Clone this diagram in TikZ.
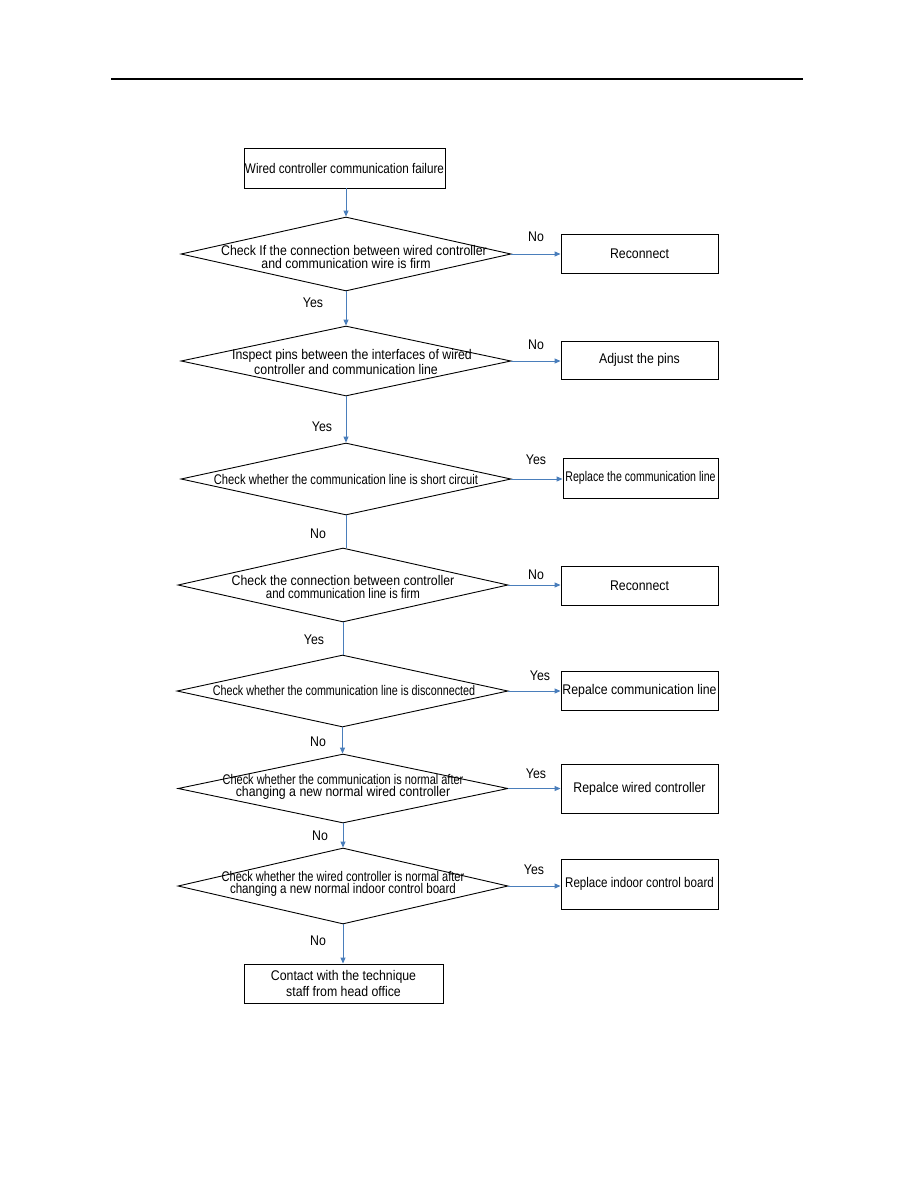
\documentclass[tikz,border=0pt]{standalone}
\usepackage{fontspec}
\usepackage{graphicx}
\setmainfont{Liberation Sans}[FakeStretch=0.88]
\usetikzlibrary{arrows.meta,shapes.geometric}
\definecolor{conn}{HTML}{4A7EBB}
\newcommand{\sx}[2]{\scalebox{#1}[1]{#2}}
\tikzset{
  box/.style={draw=black, line width=0.9pt, rectangle, inner sep=0pt, font=\fontsize{14}{16}\selectfont, align=center},
  dia/.style={draw=black, line width=0.9pt, diamond, inner sep=0pt, aspect=4.46, minimum width=330pt, minimum height=74pt},
  dtext/.style={font=\fontsize{14}{12.5}\selectfont, align=center, inner sep=0pt},
  lab/.style={font=\fontsize{14}{14}\selectfont, inner sep=0pt},
  arr/.style={draw=conn, line width=1pt, -{Triangle[length=6pt,width=5pt]}},
  plain/.style={draw=conn, line width=1pt},
}
\begin{document}
\begin{tikzpicture}[x=1pt,y=-1pt]
\useasboundingbox (0,0) rectangle (918,1188);
\coordinate (hl) at (111,79);
\coordinate (hr) at (803,79);
\draw[line width=1.3pt] (hl) -- (hr);

% main column
\node[box, minimum width=201pt, minimum height=40pt] (s) at (344.5,168) {\sx{0.95}{Wired controller communication failure}};

\node[dia] (d1) at (346,254) {};
\node[dtext] (d1t) at (346,257) {\hspace*{16pt}Check If the connection between wired controller\\and communication wire is firm};
\node[box, minimum width=157pt, minimum height=39pt] (r1) at (639.5,253.5) {Reconnect};

\node[dia, minimum height=70pt] (d2) at (346,361) {};
\node[dtext] (d2t) at (346,362) {\hspace*{12pt}Inspect pins between the interfaces of wired\\controller and communication line};
\node[box, minimum width=157pt, minimum height=38pt] (r2) at (639.5,360) {Adjust the pins};

\node[dia, minimum height=72pt] (d3) at (346,479) {};
\node[dtext] (d3t) at (346,479) {\sx{0.91}{Check whether the communication line is short circuit}};
\node[box, minimum width=155pt, minimum height=40pt] (r3) at (640.5,478) {\sx{0.86}{Replace the communication line}};

\node[dia] (d4) at (343,585) {};
\node[dtext] (d4t) at (343,587) {Check the connection between controller\\\sx{0.93}{and communication line is firm}};
\node[box, minimum width=157pt, minimum height=39pt] (r4) at (639.5,585.5) {Reconnect};

\node[dia, minimum height=72pt, minimum width=331pt] (d5) at (342.5,691) {};
\node[dtext] (d5t) at (344,690.5) {\sx{0.875}{Check whether the communication line is disconnected}};
\node[box, minimum width=157pt, minimum height=39pt] (r5) at (639.5,690.5) {Repalce communication line};

\node[dia, minimum height=69pt] (d6) at (343,788.5) {};
\node[dtext] (d6t) at (343,787) {\sx{0.89}{Check whether the communication is normal after}\\changing a new normal wired controller};
\node[box, minimum width=157pt, minimum height=49pt] (r6) at (639.5,788.5) {Repalce wired controller};

\node[dia, minimum height=76pt] (d7) at (343,886) {};
\node[dtext] (d7t) at (343,884) {\sx{0.895}{Check whether the wired controller is normal after}\\\sx{0.94}{changing a new normal indoor control board}};
\node[box, minimum width=157pt, minimum height=50pt] (r7) at (639.5,884) {\sx{0.94}{Replace indoor control board}};

\node[box, minimum width=199pt, minimum height=39pt] (e) at (343.5,983.5) {Contact with the technique\\staff from head office};

% vertical connectors
\draw[arr] (s.south -| d1.north) -- (d1.north);
\draw[arr] (d1.south) -- (d2.north);
\draw[arr] (d2.south) -- (d3.north);
\draw[plain] (d3.south) -- (d3.south |- d4.north);
\draw[plain] (d4.south) -- (d4.south |- d5.north);
\draw[arr] (d5.south) -- (d5.south |- d6.north);
\draw[arr] (d6.south) -- (d7.north);
\draw[arr] (d7.south) -- (d7.south |- e.north);

% horizontal connectors
\draw[arr] (d1.east) -- (d1.east -| r1.west);
\draw[arr] (d2.east) -- (d2.east -| r2.west);
\draw[arr] (d3.east) -- (d3.east -| r3.west);
\draw[arr] (d4.east) -- (d4.east -| r4.west);
\draw[arr] (d5.east) -- (d5.east -| r5.west);
\draw[arr] (d6.east) -- (d6.east -| r6.west);
\draw[arr] (d7.east) -- (d7.east -| r7.west);

% labels
\node[lab] (l1) at (536,237) {No};
\node[lab] (l2) at (313,303) {Yes};
\node[lab] (l3) at (536,345) {No};
\node[lab] (l4) at (322,427) {Yes};
\node[lab] (l5) at (536,460) {Yes};
\node[lab] (l6) at (318,534) {No};
\node[lab] (l7) at (536,575) {No};
\node[lab] (l8) at (314,640) {Yes};
\node[lab] (l9) at (540,676) {Yes};
\node[lab] (l10) at (318,742) {No};
\node[lab] (l11) at (536,774) {Yes};
\node[lab] (l12) at (320,836) {No};
\node[lab] (l13) at (534,870) {Yes};
\node[lab] (l14) at (318,941) {No};
\end{tikzpicture}
\end{document}
